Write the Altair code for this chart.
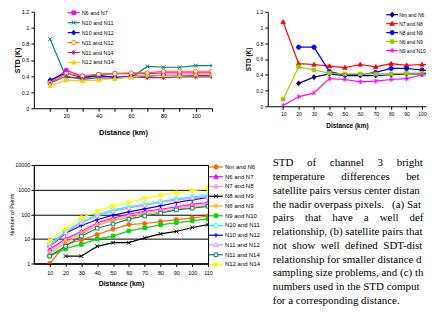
import altair as alt
import pandas as pd

DIST = [10, 20, 30, 40, 50, 60, 70, 80, 90, 100, 110]

# ---------------- panel (a) ----------------
A_NAMES = ["N6 and N7", "N10 and N11", "N10 and N12", "N11 and N12", "N11 and N14", "N12 and N14"]
A_N6_N7 = [0.33, 0.47, 0.40, 0.42, 0.43, 0.43, 0.43, 0.44, 0.44, 0.44, 0.44]
A_N10_N11 = [0.86, 0.38, 0.38, 0.40, 0.39, 0.38, 0.52, 0.51, 0.51, 0.53, 0.53]
A_N10_N12 = [0.35, 0.44, 0.38, 0.41, 0.38, 0.40, 0.40, 0.41, 0.41, 0.41, 0.41]
A_N11_N12 = [0.32, 0.43, 0.40, 0.42, 0.43, 0.44, 0.44, 0.46, 0.46, 0.46, 0.46]
A_N11_N14 = [0.31, 0.40, 0.36, 0.38, 0.37, 0.39, 0.38, 0.38, 0.39, 0.39, 0.39]
A_N12_N14 = [0.28, 0.35, 0.34, 0.35, 0.37, 0.39, 0.41, 0.41, 0.41, 0.42, 0.42]

# ---------------- panel (b) ----------------
B_NAMES = ["Nm and N6", "N7 and N8", "N8 and N9", "N6 and N9", "N9 and N10"]
B_NM_N6 = [None, 0.29, 0.37, 0.41, 0.39, 0.39, 0.39, 0.40, 0.41, 0.41, 0.43]
B_N7_N8 = [1.07, 0.54, 0.53, 0.51, 0.49, 0.53, 0.50, 0.54, 0.52, 0.53, 0.53]
B_N8_N9 = [None, 0.75, 0.75, 0.44, 0.40, 0.40, 0.43, 0.48, 0.48, 0.46, 0.44]
B_N6_N9 = [0.09, 0.50, 0.46, 0.42, 0.41, 0.41, 0.41, 0.41, 0.42, 0.42, 0.45]
B_N9_N10 = [0.01, 0.12, 0.17, 0.35, 0.34, 0.31, 0.32, 0.34, 0.35, 0.40, 0.38]

# ---------------- panel (c) ----------------
C_NAMES = ["Nm and N6", "N6 and N7", "N7 and N8", "N8 and N9", "N6 and N9", "N9 and N10",
           "N10 and N11", "N10 and N12", "N11 and N12", "N11 and N14", "N12 and N14"]
C_NM_N6 = [1, 6, 9, 15, 25, 38, 42, 50, 60, 70, 85]
C_N6_N7 = [3.8, 10, 20, 45, 70, 100, 130, 160, 200, 250, 300]
C_N7_N8 = [3, 9, 18, 40, 62, 90, 115, 145, 180, 220, 260]
C_N8_N9 = [None, 2, 2, 5, 7, 7, 11, 16, 20, 29, 38]
C_N6_N9 = [2.5, 7, 16, 35, 55, 75, 100, 125, 160, 190, 230]
C_N9_N10 = [2, 4, 6, 10, 13, 21, 28, 37, 46, 54, 66]
C_N10_N11 = [6, 20, 50, 95, 150, 200, 260, 330, 420, 500, 600]
C_N10_N12 = [4.9, 17, 35, 60, 92, 125, 165, 220, 300, 380, 480]
C_N11_N12 = [5, 18, 45, 85, 130, 180, 230, 300, 380, 450, 520]
C_N11_N14 = [2, 5, 13, 27, 40, 63, 85, 110, 150, 175, 210]
C_N12_N14 = [8, 26, 72, 135, 215, 300, 440, 580, 720, 900, 1100]

# ---------------- caption text ----------------
NB = "\u00a0"
CAPTION = [
    (NB * 5).join(["STD", "of", "channel", "3", "brightness"]),
    (NB * 6).join(["temperature", "differences", "between"]),
    "satellite pairs versus center distance of",
    "the nadir overpass pixels." + NB * 3 + "(a) Satellite",
    (NB * 4).join(["pairs", "that", "have", "a", "well", "defined"]),
    "relationship, (b) satellite pairs that do",
    (NB * 2).join(["not", "show", "well", "defined", "SDT-distance"]),
    "relationship for smaller distance due to",
    "sampling size problems, and (c) the",
    "numbers used in the STD computation",
    "for a corresponding distance.",
]

# ---------------- styles ----------------
CIRCLE = "M1,0A1,1,0,1,1,-1,0A1,1,0,1,1,1,0Z"
SQUARE = "M-0.85,-0.85H0.85V0.85H-0.85Z"
TRI = "M0,-1.05L1,0.75H-1Z"
DIAMOND = "M0,-1.15L0.95,0L0,1.15L-0.95,0Z"
XMARK = "M-0.9,-0.9L0.9,0.9M-0.9,0.9L0.9,-0.9"
STAR = "M-0.8,-0.8L0.8,0.8M-0.8,0.8L0.8,-0.8M0,-1.1V1.1"
PLUS = "M-1.1,0H1.1M0,-1.1V1.1"

A_STROKE = ["#FF00FF", "#008080", "#0000FF", "#FF6600", "#993366", "#FFCC00"]
A_FILL = ["#FF00FF", "#008080", "#0000FF", "#FFFFFF", "#993366", "#FFCC00"]
A_SHAPE = [SQUARE, XMARK, DIAMOND, CIRCLE, STAR, TRI]

B_STROKE = ["#000080", "#FF0000", "#0000FF", "#99CC00", "#FF00FF"]
B_FILL = B_STROKE
B_SHAPE = [DIAMOND, TRI, CIRCLE, SQUARE, STAR]

C_STROKE = ["#FF6600", "#FF00FF", "#FF99CC", "#000000", "#FFB000", "#00DD00",
            "#00FFFF", "#0000FF", "#CC99FF", "#008080", "#FFFF00"]
C_FILL = ["#FF6600", "#FF00FF", "#FF99CC", "#000000", "#FFB000", "#00DD00",
          "#FFFFFF", "#0000FF", "#FFFFFF", "#FFFFFF", "#FFFF00"]
C_SHAPE = [CIRCLE, TRI, TRI, XMARK, STAR, SQUARE, CIRCLE, PLUS, TRI, SQUARE, CIRCLE]

FONT = "Liberation Sans"


def long_df(names, series):
    rows = []
    for n, vals in zip(names, series):
        for d, v in zip(DIST, vals):
            if v is not None:
                rows.append({"d": d, "v": v, "s": n})
    return pd.DataFrame(rows)


def panel(df, names, strokes, fills, shapes, xscale, yscale, xaxis, yaxis, leg, w, h):
    # leg = (line_x0, marker_x, line_x1, text_x, row_y_first, row_y_last, font_size)
    lx0, mx, lx1, tx, ry0, ry1, fs = leg
    x = alt.X("d:Q", scale=xscale, axis=xaxis)
    y = alt.Y("v:Q", scale=yscale, axis=yaxis)
    y_plain = alt.Y("v:Q", scale=yscale, axis=None)
    col = alt.Color("s:N", scale=alt.Scale(domain=names, range=strokes), legend=None)
    stk = alt.Stroke("s:N", scale=alt.Scale(domain=names, range=strokes), legend=None)
    fil = alt.Fill("s:N", scale=alt.Scale(domain=names, range=fills), legend=None)
    shp = alt.Shape("s:N", scale=alt.Scale(domain=names, range=shapes), legend=None)

    line = alt.Chart(df).mark_line(strokeWidth=1.2, clip=True).encode(x=x, y=y, color=col)
    pts = alt.Chart(df).mark_point(size=18, opacity=1, fillOpacity=1, strokeWidth=1, clip=True).encode(
        x=x, y=y_plain, stroke=stk, fill=fil, shape=shp)

    # legend drawn from the series names, one row per series
    ldf = pd.DataFrame({"s": names, "r": list(range(len(names)))})
    ry = alt.Y("r:Q", scale=alt.Scale(domain=[0, len(names) - 1], range=[ry0, ry1], nice=False, zero=False), axis=None)
    lrule = alt.Chart(ldf).mark_rule(strokeWidth=1.2).encode(
        x=alt.value(lx0), x2=alt.value(lx1), y=ry, color=col)
    lpts = alt.Chart(ldf).mark_point(size=18, opacity=1, fillOpacity=1, strokeWidth=1).encode(
        x=alt.value(mx), y=ry, stroke=stk, fill=fil, shape=shp)
    ltxt = alt.Chart(ldf).mark_text(align="left", baseline="middle", font=FONT, fontSize=fs, color="black").encode(
        x=alt.value(tx), y=ry, text="s:N")
    return alt.layer(line, pts, lrule, lpts, ltxt).resolve_scale(y="independent").properties(width=w, height=h)


# ---- (a)
df_a = long_df(A_NAMES, [A_N6_N7, A_N10_N11, A_N10_N12, A_N11_N12, A_N11_N14, A_N12_N14])
chart_a = panel(
    df_a, A_NAMES, A_STROKE, A_FILL, A_SHAPE,
    alt.Scale(domain=[0, 110], nice=False, zero=False),
    alt.Scale(domain=[0, 1.2], nice=False),
    alt.Axis(values=DIST, labelExpr="datum.value % 20 == 0 && datum.value < 110 ? datum.label : ''",
             title="Distance (km)", titleFontSize=7.5, titlePadding=10, labelFontSize=5.5,
             labelPadding=2, tickSize=3, labelFlush=False),
    alt.Axis(values=[0, 0.2, 0.4, 0.6, 0.8, 1.0, 1.2], format="~g", title="STD (K)",
             titleFontSize=7, titlePadding=1, labelFontSize=5.5, labelPadding=2, tickSize=3),
    (34, 40, 46, 48, 1, 51, 5.5),
    179, 97,
)

# ---- (b)
df_b = long_df(B_NAMES, [B_NM_N6, B_N7_N8, B_N8_N9, B_N6_N9, B_N9_N10])
chart_b = panel(
    df_b, B_NAMES, B_STROKE, B_FILL, B_SHAPE,
    alt.Scale(domain=[0, 102.6], nice=False, zero=False),
    alt.Scale(domain=[0, 1.2], nice=False),
    alt.Axis(values=DIST[:10], title="Distance (km)", titleFontSize=6.5, titlePadding=6,
             labelFontSize=5, labelPadding=2, tickSize=3, labelFlush=False),
    alt.Axis(values=[0, 0.2, 0.4, 0.6, 0.8, 1.0, 1.2], format="~g", title="STD (K)",
             titleFontSize=6.5, titlePadding=4, labelFontSize=5, labelPadding=2, tickSize=3),
    (119, 125, 131, 132, 3, 39, 5),
    159, 95,
)

# ---- (c)
df_c = long_df(C_NAMES, [C_NM_N6, C_N6_N7, C_N7_N8, C_N8_N9, C_N6_N9, C_N9_N10,
                         C_N10_N11, C_N10_N12, C_N11_N12, C_N11_N14, C_N12_N14])
chart_c = panel(
    df_c, C_NAMES, C_STROKE, C_FILL, C_SHAPE,
    alt.Scale(domain=[0, 110], nice=False, zero=False),
    alt.Scale(type="log", domain=[1, 10000], nice=False),
    alt.Axis(values=DIST, title="Distance (km)", titleFontSize=7, titlePadding=4,
             labelFontSize=5.5, labelPadding=4, tickSize=3, labelFlush=False),
    alt.Axis(values=[1, 10, 100, 1000, 10000], format="d", title="Number of Points",
             titleFontSize=5.5, titleFontWeight="normal", titlePadding=0, labelFontSize=5.5,
             labelPadding=1, tickSize=3, grid=True, gridColor="black", gridWidth=1, gridOpacity=1),
    (176, 183, 190, 192, 2, 100, 6),
    175, 99,
).properties(view=alt.ViewBackground(stroke="black", strokeWidth=1))

# ---- caption (rows laid out on their own scale, first row just above the plot top of (c))
df_t = pd.DataFrame({"row": list(range(len(CAPTION))), "line": CAPTION})
chart_t = alt.Chart(df_t).mark_text(
    align="left", baseline="middle", font="Liberation Serif", fontSize=11, color="black",
    limit=152, ellipsis="\u200b"
).encode(
    x=alt.value(0),
    y=alt.Y("row:Q", scale=alt.Scale(domain=[0.109, 10.906], reverse=True, nice=False, zero=False), axis=None),
    text="line:N",
).properties(width=150, height=149)

IND = dict(x="independent", y="independent", color="independent", stroke="independent",
           fill="independent", shape="independent")

chart = alt.vconcat(
    alt.hconcat(chart_a, chart_b, spacing=56, bounds="flush").resolve_scale(**IND),
    alt.hconcat(chart_c, chart_t, spacing=65, bounds="flush").resolve_scale(**IND),
    spacing=21,
).resolve_scale(**IND).properties(
    padding={"left": 1, "top": 0, "right": 0, "bottom": 0}
).configure_view(stroke=None).configure_axis(
    labelFont=FONT, titleFont=FONT, labelColor="black", titleColor="black", titleFontWeight="bold",
    domainColor="black", tickColor="black", domainWidth=1, tickWidth=1, grid=False,
)

chart.save("out.html", embed_options={"renderer": "svg", "actions": False})
